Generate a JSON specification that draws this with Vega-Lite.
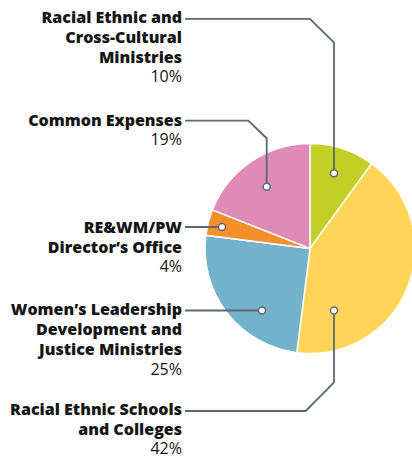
{
  "$schema": "https://vega.github.io/schema/vega-lite/v6.json",
  "width": 210,
  "height": 210,
  "autosize": {"type": "none"},
  "padding": {"left": 205, "top": 143.5, "right": 0, "bottom": 104},
  "background": "white",
  "config": {"view": {"stroke": null}},
  "datasets": {
    "slices": [
      {"name": "Racial Ethnic and\nCross-Cultural\nMinistries", "share": 0.10, "ord": 1, "lx": -1.219, "ly": 2.143, "py": 1.586, "dx": 0.2286, "dy": 0.716},
      {"name": "Racial Ethnic Schools\nand Colleges", "share": 0.42, "ord": 2, "lx": -1.219, "ly": -1.5857, "py": -1.960, "dx": 0.2286, "dy": -0.5905},
      {"name": "Women’s Leadership\nDevelopment and\nJustice Ministries", "share": 0.25, "ord": 3, "lx": -1.219, "ly": -0.6333, "py": -1.2048, "dx": -0.4571, "dy": -0.5905},
      {"name": "RE&WM/PW\nDirector’s Office", "share": 0.04, "ord": 4, "lx": -1.219, "ly": 0.1476, "py": -0.2267, "dx": -0.8381, "dy": 0.2048},
      {"name": "Common Expenses", "share": 0.19, "ord": 5, "lx": -1.219, "ly": 1.171, "py": 0.986, "dx": -0.4124, "dy": 0.5886}
    ],
    "leaders": [
      {"name": "Cross-Cultural", "seq": 1, "x": -1.190, "y": 2.186},
      {"name": "Cross-Cultural", "seq": 2, "x": 0.0, "y": 2.186},
      {"name": "Cross-Cultural", "seq": 3, "x": 0.2286, "y": 1.960},
      {"name": "Cross-Cultural", "seq": 4, "x": 0.2286, "y": 0.716},
      {"name": "Common", "seq": 1, "x": -1.190, "y": 1.217},
      {"name": "Common", "seq": 2, "x": -0.5876, "y": 1.217},
      {"name": "Common", "seq": 3, "x": -0.4124, "y": 1.050},
      {"name": "Common", "seq": 4, "x": -0.4124, "y": 0.5886},
      {"name": "Office", "seq": 1, "x": -1.190, "y": 0.2048},
      {"name": "Office", "seq": 2, "x": -0.8381, "y": 0.2048},
      {"name": "Women", "seq": 1, "x": -1.190, "y": -0.5905},
      {"name": "Women", "seq": 2, "x": -0.4571, "y": -0.5905},
      {"name": "Schools", "seq": 1, "x": 0.2286, "y": -0.5905},
      {"name": "Schools", "seq": 2, "x": 0.2286, "y": -1.276},
      {"name": "Schools", "seq": 3, "x": -0.041, "y": -1.5476},
      {"name": "Schools", "seq": 4, "x": -1.190, "y": -1.5476}
    ]
  },
  "layer": [
    {
      "data": {"name": "slices"},
      "mark": {"type": "arc", "stroke": "white", "strokeWidth": 1.5},
      "encoding": {
        "theta": {"field": "share", "type": "quantitative", "stack": true},
        "order": {"field": "ord", "type": "quantitative"},
        "color": {
          "field": "ord", "type": "nominal",
          "scale": {"domain": [1, 2, 3, 4, 5], "range": ["#c2cf24", "#ffd557", "#74b1ca", "#f58f2c", "#e08ab8"]},
          "legend": null
        }
      }
    },
    {
      "data": {"name": "leaders"},
      "mark": {"type": "line", "color": "#5d6871", "strokeWidth": 1.8, "strokeJoin": "miter"},
      "encoding": {
        "x": {"field": "x", "type": "quantitative", "scale": {"domain": [-1, 1], "zero": false, "nice": false}, "axis": null},
        "y": {"field": "y", "type": "quantitative", "scale": {"domain": [-1, 1], "zero": false, "nice": false}, "axis": null},
        "detail": {"field": "name"},
        "order": {"field": "seq", "type": "quantitative"}
      }
    },
    {
      "data": {"name": "slices"},
      "mark": {"type": "point", "shape": "circle", "filled": true, "fill": "white", "stroke": "#5d6871", "strokeWidth": 1.5, "size": 50, "opacity": 1},
      "encoding": {
        "x": {"field": "dx", "type": "quantitative"},
        "y": {"field": "dy", "type": "quantitative"}
      }
    },
    {
      "data": {"name": "slices"},
      "mark": {"type": "text", "align": "right", "baseline": "alphabetic", "lineBreak": "\n", "lineHeight": 20, "font": "Open Sans", "fontWeight": 800, "fontSize": 16, "color": "#151515"},
      "encoding": {
        "x": {"field": "lx", "type": "quantitative"},
        "y": {"field": "ly", "type": "quantitative"},
        "text": {"field": "name"}
      }
    },
    {
      "data": {"name": "slices"},
      "mark": {"type": "text", "align": "right", "baseline": "alphabetic", "font": "Open Sans", "fontWeight": "normal", "fontSize": 16, "color": "#151515"},
      "encoding": {
        "x": {"field": "lx", "type": "quantitative"},
        "y": {"field": "py", "type": "quantitative"},
        "text": {"field": "share", "type": "quantitative", "format": ".0%"}
      }
    }
  ]
}
